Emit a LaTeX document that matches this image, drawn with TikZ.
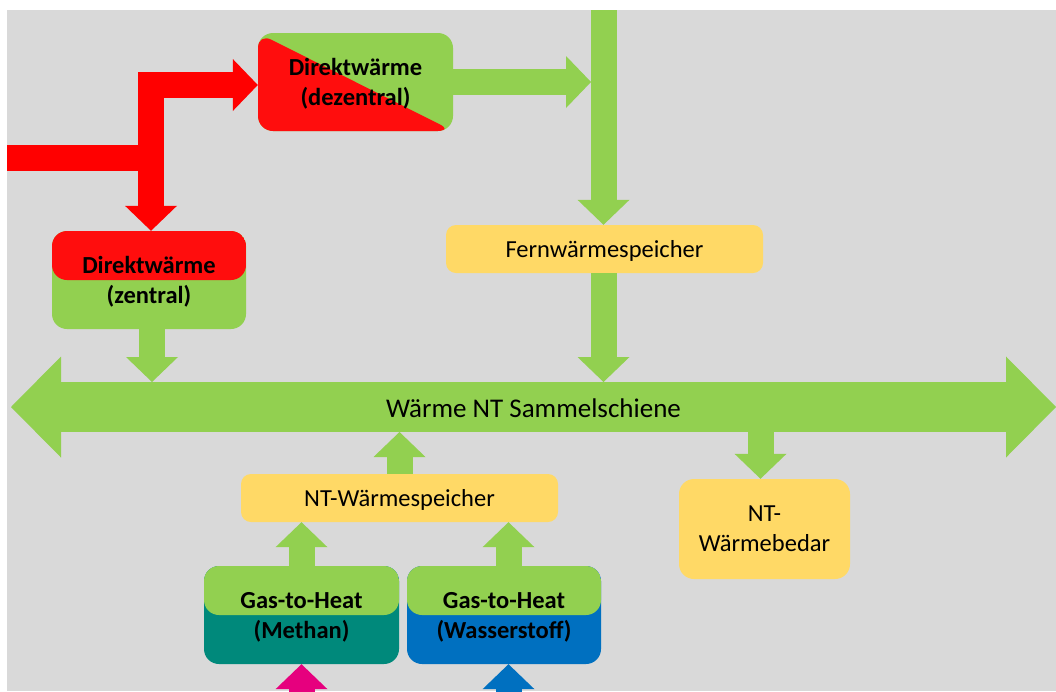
\documentclass[tikz,border=0pt]{standalone}
\usepackage{fontspec}
\setmainfont{Carlito}
\usetikzlibrary{arrows.meta,calc}
\definecolor{bg}{HTML}{D9D9D9}
\definecolor{grn}{HTML}{92D050}
\definecolor{rd}{HTML}{FF0000}
\definecolor{boxred}{HTML}{FF0D0D}
\definecolor{ylw}{HTML}{FFD966}
\definecolor{tealx}{HTML}{00897B}
\definecolor{blu}{HTML}{0070C0}
\definecolor{mag}{HTML}{E6007E}
\tikzset{
  flow/.style={line width=26pt, line cap=butt, line join=miter,
    -{Triangle[length=25pt,width=52pt,line width=0pt]}},
  barline/.style={line width=26pt, line cap=butt, line join=miter},
  boxbase/.style={inner sep=0pt, align=center, text=black, text depth=0pt,
    font=\fontsize{24.5}{30}\selectfont},
  bigbox/.style={boxbase, rounded corners=15pt, minimum width=195pt,
    minimum height=98pt, font=\fontsize{24.5}{30}\selectfont\bfseries},
  store/.style={boxbase, fill=ylw, rounded corners=10pt,
    minimum width=317pt, minimum height=48pt},
  toptint/.style={path picture={\fill[#1] (path picture bounding box.north west)
    rectangle (path picture bounding box.east);}},
}
\begin{document}
\begin{tikzpicture}[x=1pt,y=-1pt]
\useasboundingbox (0,0) rectangle (1056,691);
\fill[white] (0,0) rectangle (1056,691);
\fill[bg] (7,10) rectangle (1056,691);
\begin{scope}
\clip (7,10) rectangle (1056,691);
% bus
\coordinate (busL) at (11,407);
\coordinate (busR) at (1056,407);
\coordinate (busN) at (533.5,382);
\coordinate (busS) at (533.5,432);
\draw[grn, line width=50pt, line cap=butt, {Triangle[length=50pt,width=101pt,line width=0pt]}-{Triangle[length=50pt,width=101pt,line width=0pt]}] (busL) -- (busR);
\node[inner sep=0pt, text=black, font=\fontsize{27}{32}\selectfont] (bus) at (533.5,408) {Wärme NT Sammelschiene};
% boxes
\node[bigbox, fill=grn, path picture={\fill[boxred] (path picture bounding box.north west) -- (path picture bounding box.south west) -- (path picture bounding box.south east) -- cycle;}] (dz) at (355.5,82) {Direktwärme\\(dezentral)};
\node[bigbox, fill=grn, toptint=boxred, minimum width=194pt] (ze) at (149,280) {Direktwärme\\(zentral)};
\node[store] (fw) at (604.5,249) {Fernwärmespeicher};
\node[store] (ntw) at (399.5,498) {NT-Wärmespeicher};
\node[bigbox, fill=tealx, toptint=grn] (me) at (301.5,615) {Gas-to-Heat\\(Methan)};
\node[bigbox, fill=blu, toptint=grn, minimum width=194pt] (ws) at (504,615) {Gas-to-Heat\\(Wasserstoff)};
\node[boxbase, fill=ylw, rounded corners=15pt, minimum width=171pt, minimum height=100pt] (bed) at (764.5,529) {NT-\\Wärmebedar};
% red supply
\coordinate (redin) at (0,158);
\coordinate (redjoin) at (151,158);
\coordinate (dzin) at ($(dz.west)+(0,3)$);
\draw[barline, rd] (redin) -- (redjoin);
\draw[flow, rd] (redjoin) |- (dzin);
\draw[flow, rd] (redjoin) -- (redjoin |- ze.north);
% green district heating line
\coordinate (fwtop) at (603.5,0);
\coordinate (barleft) at (591,0);
\draw[flow, grn] (fwtop) -- (fwtop |- fw.north);
\draw[flow, grn] (dz.east) -- (dz.east -| barleft);
\draw[flow, grn] (fwtop |- fw.south) -- (fwtop |- busN);
\coordinate (zeout) at ($(ze.south)+(3,0)$);
\draw[flow, grn] (zeout) -- (zeout |- busN);
\draw[flow, grn] (ntw.north) -- (ntw.north |- busS);
\coordinate (bedin) at (760.5,0);
\draw[flow, grn] (bedin |- busS) -- (bedin |- bed.north);
\draw[flow, grn] (me.north) -- (me.north |- ntw.south);
\coordinate (wsin) at (508.5,0);
\draw[flow, grn] (wsin |- ws.north) -- (wsin |- ntw.south);
% gas inputs
\coordinate (mein) at (301.5,720);
\draw[flow, mag] (mein) -- (me.south);
\coordinate (wsbot) at (508.5,720);
\draw[flow, blu] (wsbot) -- (wsbot |- ws.south);
\end{scope}
\end{tikzpicture}
\end{document}
